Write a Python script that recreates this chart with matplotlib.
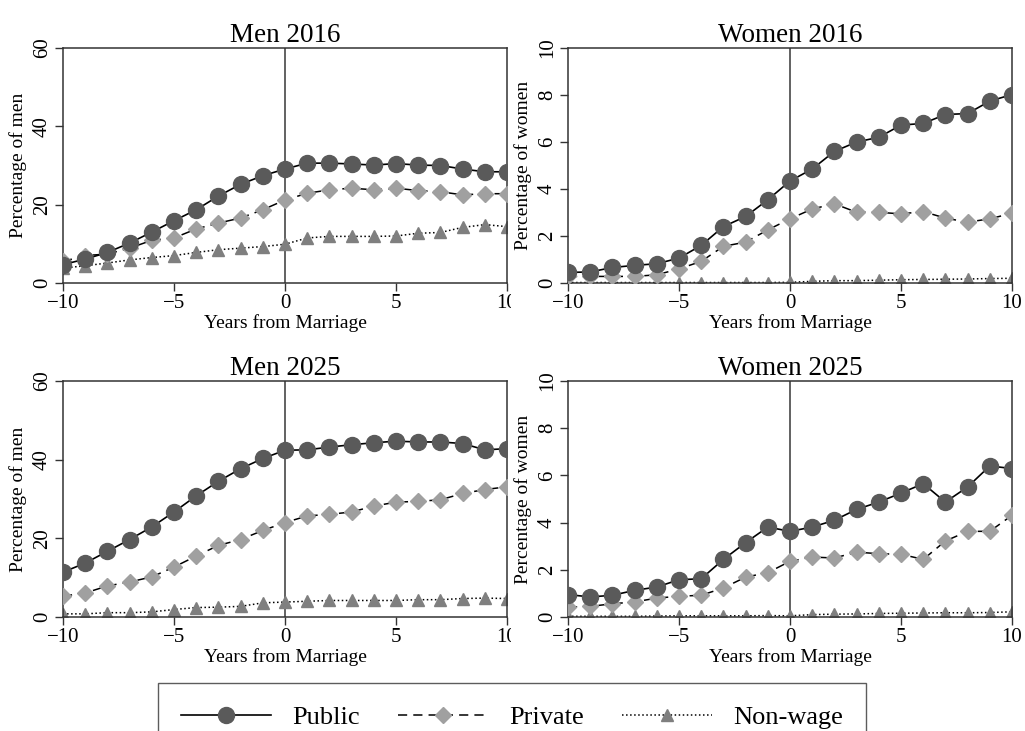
import numpy as np
import matplotlib
matplotlib.use("Agg")
import matplotlib.pyplot as plt
from matplotlib.patches import Rectangle

plt.rcParams['font.family'] = ['Liberation Serif', 'DejaVu Serif']

# years relative to marriage
years = list(range(-10, 11))

men16_public = [4.7, 6.1, 7.8, 10.2, 13.0, 15.9, 18.7, 22.2, 25.2, 27.4, 29.1,
                30.6, 30.6, 30.4, 30.1, 30.5, 30.1, 30.0, 29.1, 28.4, 28.4]
men16_private = [5.5, 7.0, 7.4, 8.9, 10.9, 11.5, 13.8, 15.3, 16.6, 18.7, 21.2,
                 22.9, 23.8, 24.2, 23.8, 24.2, 23.6, 23.3, 22.5, 22.8, 22.8]
men16_nonwage = [3.8, 4.4, 5.1, 5.9, 6.5, 7.0, 7.8, 8.5, 8.9, 9.3, 9.9,
                 11.5, 11.9, 11.9, 11.9, 12.0, 12.7, 12.9, 14.2, 14.9, 14.4]

women16_public = [0.45, 0.47, 0.66, 0.75, 0.82, 1.06, 1.6, 2.4, 2.83, 3.54, 4.34,
                  4.85, 5.6, 6.0, 6.2, 6.72, 6.79, 7.17, 7.21, 7.74, 8.02]
women16_private = [0.28, 0.28, 0.28, 0.28, 0.35, 0.6, 0.92, 1.56, 1.74, 2.26, 2.73,
                   3.15, 3.37, 3.01, 3.01, 2.94, 3.04, 2.76, 2.59, 2.73, 2.97]
women16_nonwage = [0.02, 0.02, 0.02, 0.02, 0.02, 0.02, 0.02, 0.02, 0.02, 0.02, 0.03,
                   0.07, 0.10, 0.10, 0.12, 0.14, 0.15, 0.16, 0.17, 0.19, 0.20]

men25_public = [11.4, 13.7, 16.7, 19.7, 22.9, 26.7, 30.8, 34.5, 37.7, 40.3, 42.4,
                42.5, 43.2, 43.8, 44.3, 44.7, 44.5, 44.5, 44.1, 42.5, 42.8]
men25_private = [5.3, 6.1, 7.9, 8.9, 10.2, 12.7, 15.5, 18.2, 19.7, 22.0, 24.0,
                 25.7, 26.1, 26.7, 28.2, 29.2, 29.4, 29.8, 31.4, 32.4, 33.1]
men25_nonwage = [0.8, 0.8, 1.1, 1.1, 1.3, 1.9, 2.4, 2.5, 2.7, 3.6, 3.8,
                 4.0, 4.2, 4.2, 4.2, 4.2, 4.4, 4.4, 4.7, 4.8, 4.7]

women25_public = [0.95, 0.85, 0.92, 1.13, 1.27, 1.58, 1.62, 2.44, 3.15, 3.81, 3.63,
                  3.81, 4.1, 4.56, 4.87, 5.25, 5.65, 4.87, 5.51, 6.4, 6.29]
women25_private = [0.42, 0.45, 0.56, 0.64, 0.8, 0.88, 0.92, 1.23, 1.69, 1.88, 2.36,
                   2.54, 2.5, 2.75, 2.68, 2.66, 2.44, 3.22, 3.63, 3.63, 4.31]
women25_nonwage = [0.03, 0.03, 0.03, 0.03, 0.04, 0.05, 0.05, 0.05, 0.05, 0.06, 0.05,
                   0.10, 0.12, 0.13, 0.15, 0.16, 0.17, 0.18, 0.18, 0.19, 0.22]

panels = [
    ("Men 2016", "Percentage of men", 60, men16_public, men16_private, men16_nonwage),
    ("Women 2016", "Percentage of women", 10, women16_public, women16_private, women16_nonwage),
    ("Men 2025", "Percentage of men", 60, men25_public, men25_private, men25_nonwage),
    ("Women 2025", "Percentage of women", 10, women25_public, women25_private, women25_nonwage),
]

W, H = 1025, 731
fig = plt.figure(figsize=(W / 100, H / 100), dpi=100)

# axes boxes in pixels: left, right, top, bottom
boxes = [(63, 507, 48, 283), (568, 1012, 48, 283),
         (63, 507, 381, 617), (568, 1012, 381, 617)]

spine_col = '#333333'
for (title, ylab, ymax, pub, pri, non), (l, r, t, b) in zip(panels, boxes):
    ax = fig.add_axes([l / W, 1 - b / H, (r - l) / W, (b - t) / H])
    ax.axvline(0, color='#555555', lw=1.3, zorder=1)
    ax.plot(years, non, color='black', ls=':', lw=1.1, marker='^', ms=9,
            mfc='#7f7f7f', mec='#7f7f7f', label='Non-wage', zorder=2)
    ax.plot(years, pri, color='black', ls=(0, (6, 4)), lw=1.1, marker='D', ms=8.5,
            mfc='#a0a0a0', mec='#a0a0a0', label='Private', zorder=3)
    ax.plot(years, pub, color='black', ls='-', lw=1.2, marker='o', ms=11.5,
            mfc='#5a5a5a', mec='#5a5a5a', label='Public', zorder=4)
    ax.set_xlim(-10, 10)
    ax.set_ylim(0, ymax)
    ax.set_xticks([-10, -5, 0, 5, 10])
    ax.set_yticks(np.linspace(0, ymax, 4 if ymax == 60 else 6))
    ax.tick_params(axis='both', direction='out', length=6, width=1,
                   color=spine_col, labelsize=15, pad=2)
    for lbl in ax.get_yticklabels():
        lbl.set_rotation(90)
        lbl.set_va('center')
    for sp in ax.spines.values():
        sp.set_color(spine_col)
        sp.set_linewidth(1.1)
    ax.set_title(title, fontsize=19.5, pad=4)
    ax.set_ylabel(ylab, fontsize=14, labelpad=4)
    ax.set_xlabel("Years from Marriage", fontsize=14, labelpad=1)

# white strip hides the right part of the left panels' "10" labels
for yb in (283, 617):
    fig.add_artist(Rectangle((511 / W, 1 - (yb + 30) / H), 20 / W, 26 / H,
                             transform=fig.transFigure, facecolor='white',
                             edgecolor='none', zorder=10))

handles, labels = fig.axes[0].get_legend_handles_labels()
order = [2, 1, 0]
leg = fig.legend([handles[i] for i in order], [labels[i] for i in order],
                 loc='upper center', bbox_to_anchor=(512 / W, 1 - 683 / H),
                 ncol=3, fontsize=19, frameon=True, fancybox=False,
                 edgecolor='#333333', handlelength=3.4, columnspacing=1.45,
                 borderpad=0.87, handletextpad=0.8, borderaxespad=0)
leg.get_frame().set_linewidth(1.0)

fig.savefig("out.png", dpi=100)
